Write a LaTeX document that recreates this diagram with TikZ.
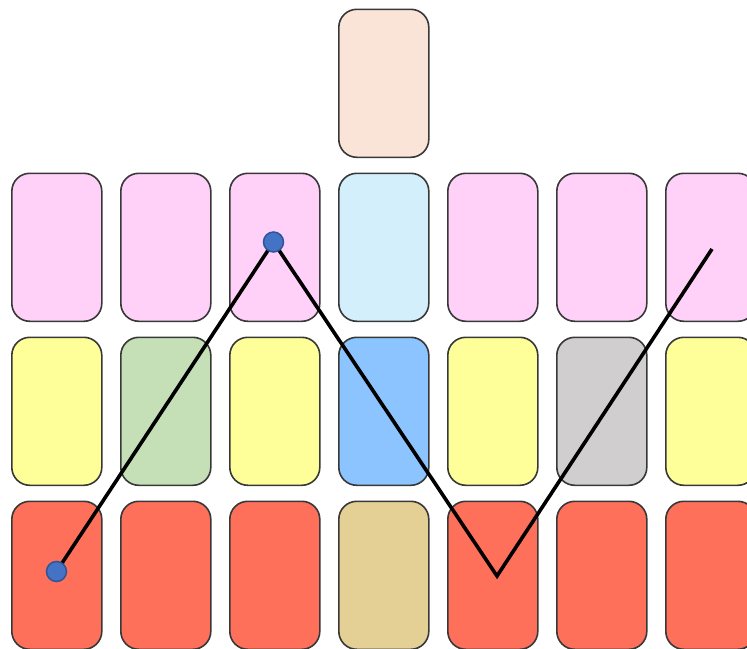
\documentclass[tikz,border=0pt]{standalone}
\begin{document}
\begin{tikzpicture}[x=1pt,y=-1pt,
  card/.style={draw=black!78,line width=1.6pt,rounded corners=18pt,minimum width=90pt,minimum height=148pt,inner sep=0pt,anchor=north west},
  dot/.style={circle,fill=dotblue,draw=dotedge,line width=1.5pt,minimum size=20pt,inner sep=0pt},
  path/.style={line width=3.6pt,line join=miter}]
\definecolor{pinkc}{HTML}{FFD1F8}
\definecolor{bluec}{HTML}{D3EFFB}
\definecolor{yellc}{HTML}{FFFF99}
\definecolor{greenc}{HTML}{C5DFB6}
\definecolor{blue2c}{HTML}{8BC4FF}
\definecolor{grayc}{HTML}{D0CECE}
\definecolor{redc}{HTML}{FF705B}
\definecolor{tanc}{HTML}{E4CF95}
\definecolor{peachc}{HTML}{FAE4D8}
\definecolor{dotblue}{HTML}{4472C4}
\definecolor{dotedge}{HTML}{2F5597}
\useasboundingbox (0,0) rectangle (747,648);
\node[card,fill=peachc] (top) at (338,8.5) {};
% row 1
\node[card,fill=pinkc] (a1) at (11,172.5) {};
\node[card,fill=pinkc] (a2) at (120,172.5) {};
\node[card,fill=pinkc] (a3) at (229,172.5) {};
\node[card,fill=bluec] (a4) at (338,172.5) {};
\node[card,fill=pinkc] (a5) at (447,172.5) {};
\node[card,fill=pinkc] (a6) at (556,172.5) {};
\node[card,fill=pinkc] (a7) at (665,172.5) {};
% row 2
\node[card,fill=yellc] (b1) at (11,336.5) {};
\node[card,fill=greenc] (b2) at (120,336.5) {};
\node[card,fill=yellc] (b3) at (229,336.5) {};
\node[card,fill=blue2c] (b4) at (338,336.5) {};
\node[card,fill=yellc] (b5) at (447,336.5) {};
\node[card,fill=grayc] (b6) at (556,336.5) {};
\node[card,fill=yellc] (b7) at (665,336.5) {};
% row 3
\node[card,fill=redc] (c1) at (11,500.5) {};
\node[card,fill=redc] (c2) at (120,500.5) {};
\node[card,fill=redc] (c3) at (229,500.5) {};
\node[card,fill=tanc] (c4) at (338,500.5) {};
\node[card,fill=redc] (c5) at (447,500.5) {};
\node[card,fill=redc] (c6) at (556,500.5) {};
\node[card,fill=redc] (c7) at (665,500.5) {};
% path
\coordinate (p1) at (56.5,571.5);
\coordinate (p2) at (273.5,242);
\coordinate (p3) at (497,576);
\coordinate (p4) at (712,249);
\draw[path] (p1) -- (p2) -- (p3) -- (p4);
\node[dot] (d1) at (p1) {};
\node[dot] (d2) at (p2) {};
\end{tikzpicture}
\end{document}
